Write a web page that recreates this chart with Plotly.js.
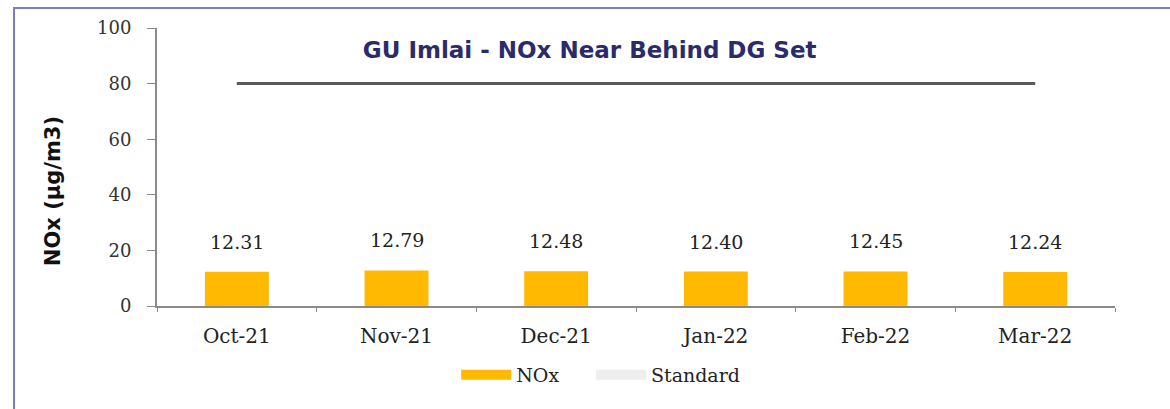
<!DOCTYPE html>
<html>
<head>
<meta charset="utf-8">
<script src="https://cdn.plot.ly/plotly-3.0.1.min.js"></script>
<style>
  html, body { margin: 0; padding: 0; background: #ffffff; }
  #chart { width: 1170px; height: 409px; }
  #frame { position: absolute; left: 13px; top: 7px; width: 1180px; height: 420px;
           border: 2px solid #7c7cc4; pointer-events: none; }
</style>
</head>
<body>
<div id="chart"></div>
<div id="frame"></div>
<script>
const months = ["Oct-21", "Nov-21", "Dec-21", "Jan-22", "Feb-22", "Mar-22"];
const noxValues = [12.31, 12.79, 12.48, 12.40, 12.45, 12.24];
const standardValues = [80, 80, 80, 80, 80, 80];
const yTicks = [0, 20, 40, 60, 80, 100];

const serif = "DejaVu Serif, Liberation Serif, serif";

const traces = [
  {
    type: "bar", x: months, y: noxValues, name: "NOx",
    marker: { color: "#ffb900" }, showlegend: false
  },
  {
    type: "scatter", mode: "lines", x: months, y: standardValues, name: "Standard",
    line: { color: "#5a5a5a", width: 3 }, showlegend: false
  },
  {
    type: "scatter", mode: "lines", x: [null], y: [null], name: "NOx",
    line: { color: "#ffb900", width: 13 }, showlegend: true, legend: "legend"
  },
  {
    type: "scatter", mode: "lines", x: [null], y: [null], name: "Standard",
    line: { color: "#eeeeee", width: 14 }, showlegend: true, legend: "legend2"
  }
];

const annotations = months.map((m, i) => ({
  x: m, y: noxValues[i], xref: "x", yref: "y",
  text: noxValues[i].toFixed(2), showarrow: false,
  yanchor: "bottom", yshift: 17,
  font: { family: serif, size: 19, color: "#222222" }
}));
annotations.push({
  text: "<b>NOx (µg/m3)</b>", xref: "paper", yref: "paper",
  x: -0.1086, y: 0.413, xanchor: "center", yanchor: "middle",
  textangle: -90, showarrow: false,
  font: { family: "DejaVu Sans, sans-serif", size: 21, color: "#111111" }
});

const legendBase = {
  orientation: "h", y: -0.248, yanchor: "middle", xanchor: "left",
  font: { family: serif, size: 19, color: "#222222" },
  itemwidth: 50, bgcolor: "rgba(0,0,0,0)"
};

const layout = {
  width: 1170, height: 409,
  margin: { l: 157, r: 55, t: 28, b: 103 },
  paper_bgcolor: "#ffffff", plot_bgcolor: "#ffffff",
  bargap: 0.6,
  title: {
    text: "<b>GU Imlai - NOx Near Behind DG Set</b>",
    font: { family: "DejaVu Sans, sans-serif", size: 23, color: "#2b2b6b" },
    x: 0.504, xanchor: "center", y: 0.878, yanchor: "middle", yref: "container"
  },
  xaxis: {
    type: "category",
    showline: true, linecolor: "#8a8a8a", linewidth: 2,
    ticks: "outside", tickson: "boundaries", ticklen: 4, tickcolor: "#8a8a8a",
    tickfont: { family: serif, size: 20, color: "#222222" },
    ticklabelstandoff: 11,
    showgrid: false, zeroline: false, fixedrange: true
  },
  yaxis: {
    range: [0, 100], tickvals: yTicks, ticktext: yTicks.map(String),
    showline: true, linecolor: "#8a8a8a", linewidth: 2,
    ticks: "outside", ticklen: 8, tickcolor: "#8a8a8a",
    tickfont: { family: serif, size: 18, color: "#333333" },
    ticklabelstandoff: 12,
    showgrid: false, zeroline: false
  },
  showlegend: true,
  legend: Object.assign({}, legendBase, { x: 0.3123 }),
  legend2: Object.assign({}, legendBase, { x: 0.4530 }),
  annotations: annotations
};

Plotly.newPlot("chart", traces, layout, { displayModeBar: false, staticPlot: true });
</script>
</body>
</html>
